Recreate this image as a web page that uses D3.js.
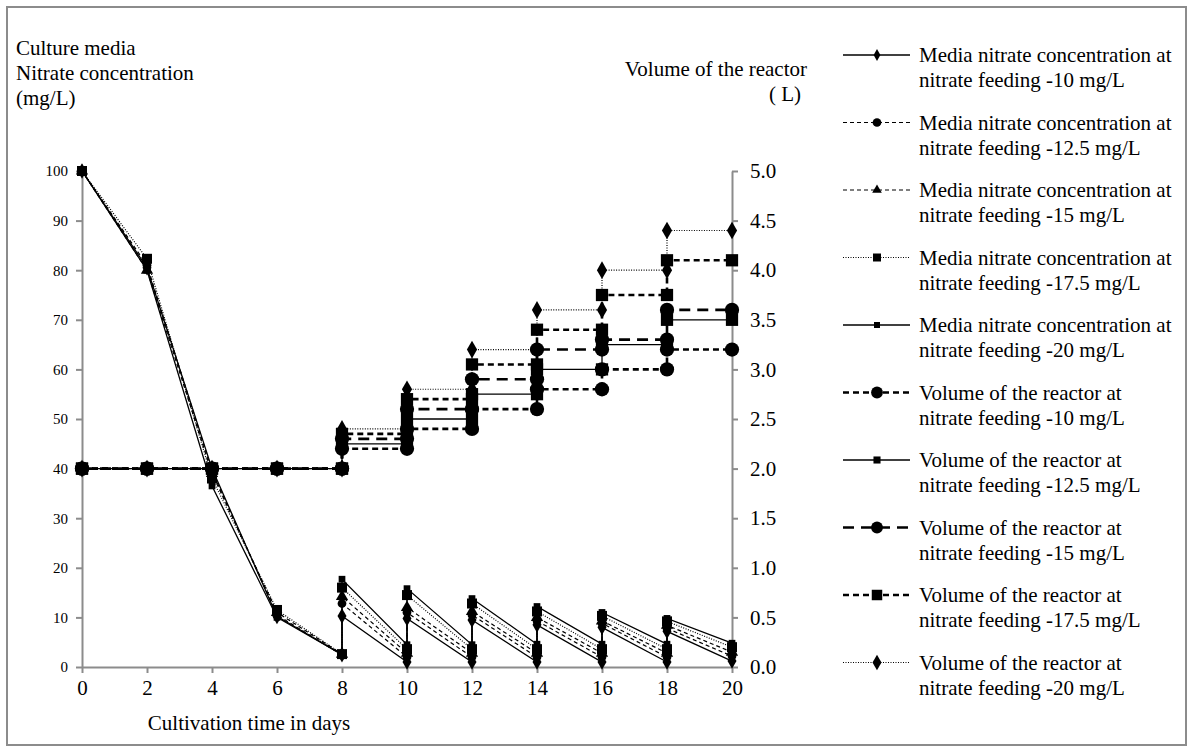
<!doctype html>
<html lang="en">
<head>
	<meta charset="UTF-8">
	<title>nitrate feeding chart</title>
	<style>
		body { margin: 0; background: #fff; }
		svg text { font-family: "Liberation Serif", "Times New Roman", Times, serif; fill: #000; }
		.axis path, .axis line { stroke: #8c8c8c; stroke-width: 2; }
	</style>
</head>
<body>
	<script src="https://cdn.jsdelivr.net/npm/d3@7/dist/d3.min.js"></script>
	<script>
		// days (repeated day = before / after feeding)
		var days = [0, 2, 4, 6, 8, 8, 10, 10, 12, 12, 14, 14, 16, 16, 18, 18, 20];
		var xTicks = [0, 2, 4, 6, 8, 10, 12, 14, 16, 18, 20],
			leftTicks = [0, 10, 20, 30, 40, 50, 60, 70, 80, 90, 100],
			rightTicks = [0, 0.5, 1, 1.5, 2, 2.5, 3, 3.5, 4, 4.5, 5];

		// media nitrate concentration (mg/L)
		var media10 = [100, 80.5, 40, 10.2, 2.5, 10.3, 1.0, 9.8, 1.0, 9.5, 1.0, 8.5, 1.0, 8.0, 1.0, 7.2, 1.2],
			media125 = [100, 81, 39.5, 10.5, 2.4, 12.8, 2.0, 11.0, 2.0, 10.5, 2.0, 9.3, 2.0, 8.8, 2.0, 7.8, 2.2],
			media15 = [100, 80, 39, 11, 2.6, 14.2, 2.8, 12.0, 2.8, 11.2, 2.8, 10.0, 2.8, 9.3, 2.8, 8.4, 3.0],
			media175 = [100, 82.3, 38, 11.5, 2.6, 16.0, 3.6, 14.5, 3.6, 12.8, 3.6, 11.2, 3.6, 10.3, 3.6, 9.2, 4.0],
			media20 = [100, 80, 36.5, 10, 2.5, 17.7, 4.5, 15.8, 4.5, 13.8, 4.6, 12.2, 4.6, 11.0, 4.6, 9.8, 4.8];

		// volume of the reactor (L)
		var vol10 = [2, 2, 2, 2, 2, 2.2, 2.2, 2.4, 2.4, 2.6, 2.6, 2.8, 2.8, 3.0, 3.0, 3.2, 3.2],
			vol125 = [2, 2, 2, 2, 2, 2.25, 2.25, 2.5, 2.5, 2.75, 2.75, 3.0, 3.0, 3.25, 3.25, 3.5, 3.5],
			vol15 = [2, 2, 2, 2, 2, 2.3, 2.3, 2.6, 2.6, 2.9, 2.9, 3.2, 3.2, 3.3, 3.3, 3.6, 3.6],
			vol175 = [2, 2, 2, 2, 2, 2.35, 2.35, 2.7, 2.7, 3.05, 3.05, 3.4, 3.4, 3.75, 3.75, 4.1, 4.1],
			vol20 = [2, 2, 2, 2, 2, 2.4, 2.4, 2.8, 2.8, 3.2, 3.2, 3.6, 3.6, 4.0, 4.0, 4.4, 4.4];

		var mediaLabel = 'Media nitrate concentration at',
			volLabel = 'Volume of the reactor at',
			feedLabels = ['nitrate feeding -10 mg/L', 'nitrate feeding -12.5 mg/L', 'nitrate feeding -15 mg/L',
				'nitrate feeding -17.5 mg/L', 'nitrate feeding -20 mg/L'];

		var w = 1191,
			h = 747,
			fontSize = '21px';

		var svg = d3.select('body').append('svg')
			.attr('width', w)
			.attr('height', h);

		// outer frame
		svg.append('rect')
			.attr('x', 7).attr('y', 7)
			.attr('width', 1179).attr('height', 738)
			.attr('fill', 'none')
			.attr('stroke', '#8c8c8c')
			.attr('stroke-width', 2);

		var xScale = d3.scaleLinear().domain([0, 20]).range([82, 732]),
			yLeft = d3.scaleLinear().domain([0, 100]).range([667, 171]),
			yRight = d3.scaleLinear().domain([0, 5]).range([667, 171]);

		// axes
		var xAxis = svg.append('g')
			.attr('class', 'axis')
			.attr('transform', 'translate(0,' + yLeft(0) + ')')
			.call(d3.axisBottom(xScale).tickValues(xTicks).tickSize(6).tickSizeOuter(0));
		xAxis.selectAll('text').style('font-size', fontSize).attr('dy', '0.9em');

		var leftAxis = svg.append('g')
			.attr('class', 'axis')
			.attr('transform', 'translate(' + xScale(0) + ',0)')
			.call(d3.axisLeft(yLeft).tickValues(leftTicks).tickSize(6).tickSizeOuter(0).tickPadding(8));
		leftAxis.selectAll('text').style('font-size', '15px');

		var rightAxis = svg.append('g')
			.attr('class', 'axis')
			.attr('transform', 'translate(' + xScale(20) + ',0)')
			.call(d3.axisRight(yRight).tickValues(rightTicks).tickSize(6).tickSizeOuter(0).tickPadding(12)
				.tickFormat(d3.format('.1f')));
		rightAxis.selectAll('text').style('font-size', fontSize);

		/**
		* series styles
		*/
		var series = [
			{ values: media10, y: yLeft, dash: null, width: 1.3, symbol: d3.symbolDiamond, size: 70, legSize: 40, label: mediaLabel, feed: 0 },
			{ values: media125, y: yLeft, dash: '4,3', width: 1.2, symbol: d3.symbolCircle, size: 60, legSize: 60, label: mediaLabel, feed: 1 },
			{ values: media15, y: yLeft, dash: '4,3', width: 1.2, symbol: d3.symbolTriangle, size: 65, legSize: 40, label: mediaLabel, feed: 2 },
			{ values: media175, y: yLeft, dash: '1,1.5', width: 1.2, symbol: d3.symbolSquare, size: 100, legSize: 64, label: mediaLabel, feed: 3 },
			{ values: media20, y: yLeft, dash: null, width: 1.3, symbol: d3.symbolSquare, size: 45, legSize: 36, label: mediaLabel, feed: 4 },
			{ values: vol10, y: yRight, dash: '6,4', width: 2.6, symbol: d3.symbolCircle, size: 160, legSize: 110, label: volLabel, feed: 0 },
			{ values: vol125, y: yRight, dash: null, width: 1.3, symbol: d3.symbolSquare, size: 150, legSize: 50, label: volLabel, feed: 1 },
			{ values: vol15, y: yRight, dash: '11,7', width: 2.6, symbol: d3.symbolCircle, size: 160, legSize: 110, label: volLabel, feed: 2 },
			{ values: vol175, y: yRight, dash: '6,4', width: 2.6, symbol: d3.symbolSquare, size: 150, legSize: 110, label: volLabel, feed: 3 },
			{ values: vol20, y: yRight, dash: '1,1.5', width: 1.2, symbol: d3.symbolDiamond, size: 90, legSize: 70, label: volLabel, feed: 4 }
		];

		var drawSeries = function(s) {
			var pts = days.map(function(d, i) { return [d, s.values[i]]; });
			var line = d3.line()
				.x(function(p) { return xScale(p[0]); })
				.y(function(p) { return s.y(p[1]); });

			svg.append('path')
				.datum(pts)
				.attr('d', line)
				.attr('fill', 'none')
				.attr('stroke', '#000')
				.attr('stroke-width', s.width)
				.attr('stroke-dasharray', s.dash);

			svg.append('g').selectAll('path')
				.data(pts)
				.enter()
				.append('path')
				.attr('transform', function(p) {
					return 'translate(' + xScale(p[0]) + ',' + s.y(p[1]) + ')';
				})
				.attr('d', d3.symbol().type(s.symbol).size(s.size))
				.attr('fill', '#000');
		};

		series.forEach(drawSeries);

		// legend
		var legend = svg.append('g');
		series.forEach(function(s, i) {
			var y = 55 + i * 67.5,
				g = legend.append('g').attr('transform', 'translate(0,' + y + ')');
			g.append('line')
				.attr('x1', 843).attr('x2', 910)
				.attr('y1', 0).attr('y2', 0)
				.attr('stroke', '#000')
				.attr('stroke-width', s.width)
				.attr('stroke-dasharray', s.dash);
			g.append('path')
				.attr('transform', 'translate(877,0)')
				.attr('d', d3.symbol().type(s.symbol).size(s.legSize))
				.attr('fill', '#000');
			g.append('text')
				.attr('x', 919).attr('y', 7)
				.style('font-size', fontSize)
				.text(s.label);
			g.append('text')
				.attr('x', 919).attr('y', 32)
				.style('font-size', fontSize)
				.text(feedLabels[s.feed]);
		});

		// axis titles
		var leftTitle = ['Culture media', 'Nitrate concentration', '(mg/L)'];
		svg.append('g').selectAll('text')
			.data(leftTitle)
			.enter()
			.append('text')
			.attr('x', 16)
			.attr('y', function(d, i) { return 55 + i * 25; })
			.style('font-size', fontSize)
			.text(function(d) { return d; });

		svg.append('text')
			.attr('x', 807).attr('y', 76)
			.attr('text-anchor', 'end')
			.style('font-size', fontSize)
			.text('Volume of the reactor');
		svg.append('text')
			.attr('x', 785).attr('y', 101)
			.attr('text-anchor', 'middle')
			.style('font-size', fontSize)
			.text('( L)');

		svg.append('text')
			.attr('x', 249).attr('y', 730)
			.attr('text-anchor', 'middle')
			.style('font-size', fontSize)
			.text('Cultivation time in days');
	</script>
</body>
</html>
